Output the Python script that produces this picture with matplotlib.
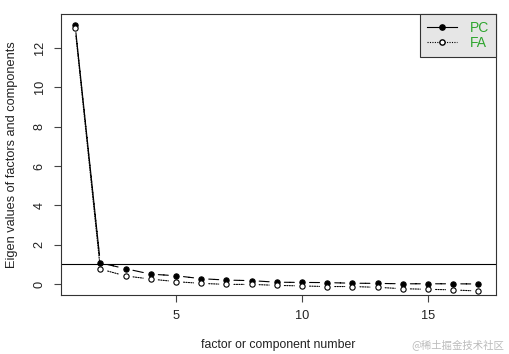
import matplotlib.pyplot as plt
import numpy as np
from matplotlib.lines import Line2D

plt.rcParams['font.family'] = ['Liberation Sans', 'DejaVu Sans']

factor_num = np.arange(1, 18)
pc_values = [13.17, 1.07, 0.78, 0.50, 0.42, 0.27, 0.20, 0.17, 0.09,
             0.08, 0.07, 0.04, 0.03, 0.01, 0.01, 0.01, 0.0]
fa_values = [13.0, 0.76, 0.41, 0.25, 0.12, 0.03, -0.02, -0.02, -0.07,
             -0.10, -0.13, -0.13, -0.17, -0.24, -0.27, -0.30, -0.36]

fig = plt.figure(figsize=(5.09, 3.54), dpi=100)
ax = fig.add_axes([61 / 509, 59 / 354, 435 / 509, 281 / 354])


def draw_series(xs, ys, style, face):
    # R type="b": line segments with gaps around the points
    for i in range(len(xs) - 1):
        ax.annotate('', xy=(xs[i + 1], ys[i + 1]), xytext=(xs[i], ys[i]),
                    arrowprops=dict(arrowstyle='-', shrinkA=5.5, shrinkB=5.5,
                                    linestyle=style, linewidth=0.8, color='black'))
    ax.plot(xs, ys, linestyle='none', marker='o', markersize=3.8,
            markerfacecolor=face, markeredgecolor='black', markeredgewidth=0.8)


draw_series(factor_num, pc_values, (0, (5, 0)), 'black')
draw_series(factor_num, fa_values, (0, (1, 1.2)), 'white')

ax.axhline(1, color='black', linewidth=0.8)

ax.set_xlim(0.44, 17.7)
ax.set_ylim(-0.56, 13.73)
ax.set_xticks([5, 10, 15])
ax.set_yticks([0, 2, 4, 6, 8, 10, 12])
ax.tick_params(axis='both', direction='out', length=5, width=0.8,
               labelsize=9.2, color='#444444', labelcolor='#222222', pad=6)
for lbl in ax.get_yticklabels():
    lbl.set_rotation(90)
    lbl.set_va('center')
for sp in ax.spines.values():
    sp.set_linewidth(0.8)
    sp.set_color('#333333')

ax.set_xlabel('factor or component number', fontsize=8.8, color='#222222', labelpad=12)
ax.set_ylabel('Eigen values of factors and components', fontsize=9.2,
              color='#222222', labelpad=11)

handles = [
    Line2D([], [], color='black', linestyle='-', linewidth=0.8, marker='o',
           markersize=3.8, markerfacecolor='black'),
    Line2D([], [], color='black', linestyle=(0, (1, 1.2)), linewidth=0.8,
           marker='o', markersize=3.8, markerfacecolor='white'),
]
leg = ax.legend(handles, ['PC', 'FA'], loc='upper right', borderaxespad=0,
                fancybox=False, framealpha=1, fontsize=10, handlelength=2.2,
                labelspacing=0.1, borderpad=0.5, handletextpad=0.9)
leg.get_frame().set_facecolor('#e6e6e6')
leg.get_frame().set_edgecolor('#333333')
leg.get_frame().set_linewidth(0.8)
for t in leg.get_texts():
    t.set_color('#2fa52f')

fig.text(0.99, 0.012, '@稀土掘金技术社区', ha='right', va='bottom', fontsize=7.5,
         color='#bbbbbb', family=['Noto Sans CJK SC', 'DejaVu Sans'])

fig.savefig('out.png', dpi=100)
